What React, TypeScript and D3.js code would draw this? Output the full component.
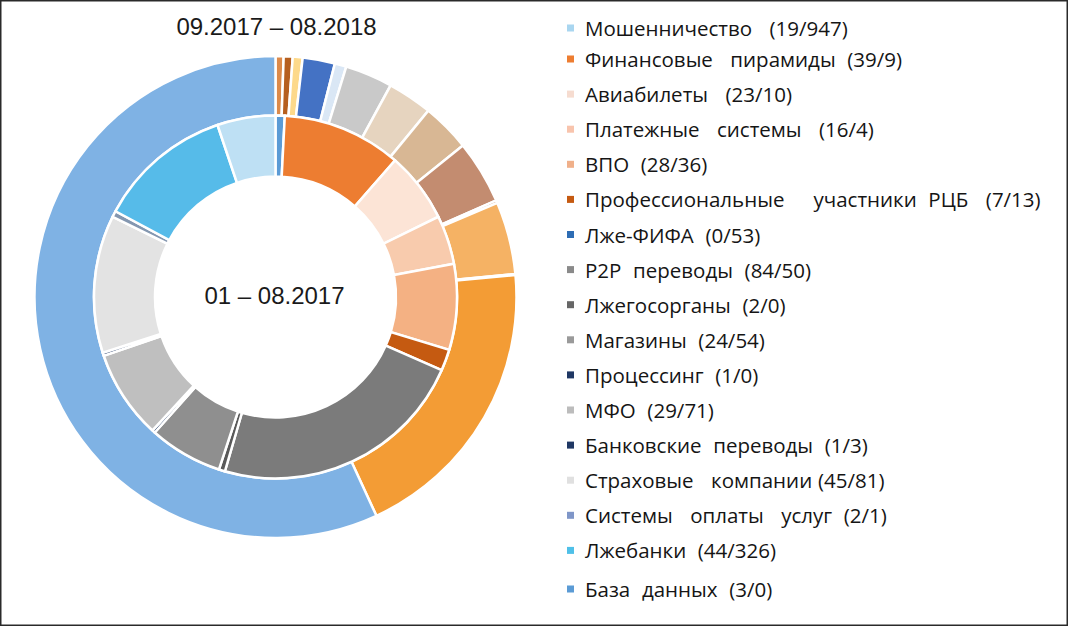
import React from "react";
import * as d3 from "d3";

// Categories in legend order (spacing as printed in the legend)
const categories = [
  "Мошенничество   ",
  "Финансовые   пирамиды  ",
  "Авиабилеты   ",
  "Платежные   системы   ",
  "ВПО  ",
  "Профессиональные     участники  РЦБ   ",
  "Лже-ФИФА  ",
  "P2P  переводы  ",
  "Лжегосорганы  ",
  "Магазины  ",
  "Процессинг  ",
  "МФО  ",
  "Банковские  переводы  ",
  "Страховые   компании ",
  "Системы   оплаты   услуг  ",
  "Лжебанки  ",
  "База  данных  ",
];

// Legend counts as printed (01–08.2017 / 09.2017–08.2018)
const legendCounts = [
  "(19/947)", "(39/9)", "(23/10)", "(16/4)", "(28/36)", "(7/13)", "(0/53)", "(84/50)",
  "(2/0)", "(24/54)", "(1/0)", "(29/71)", "(1/3)", "(45/81)", "(2/1)", "(44/326)", "(3/0)",
];

// Inner ring: 01–08.2017
const innerValues = [19, 39, 23, 16, 28, 7, 0, 84, 2, 24, 1, 29, 1, 45, 2, 44, 3];
// Outer ring: 09.2017–08.2018 (as read from the arcs)
const outerValues = [947, 9, 10, 11, 36, 13, 53, 50, 0, 54, 0, 71, 3, 81, 1, 326, 0];

// Order of the slices clockwise from 12 o'clock (indices into categories)
const ringOrder = [16, 1, 2, 3, 4, 5, 6, 7, 8, 9, 10, 11, 12, 13, 14, 15, 0];

const innerColors = [
  "#bee0f4", "#ed7d31", "#fce4d6", "#f8cbad", "#f4b183", "#c55a11", "#2e75b6", "#7b7b7b",
  "#595959", "#8f8f8f", "#1f3864", "#bfbfbf", "#1f3864", "#e3e3e3", "#8497b0", "#56bbe9", "#5b9bd5",
];
const outerColors = [
  "#7fb2e4", "#dc8a4a", "#b65f1f", "#fdd98b", "#4472c4", "#dae7f5", "#c9c9c9", "#e6d4bf",
  "#999999", "#d8b794", "#333333", "#c38c70", "#9e480e", "#f5b264", "#997300", "#f39c35", "#5b9bd5",
];
const legendColors = [
  "#a9d6f0", "#ed7d31", "#f6dcd0", "#f8c4ad", "#f0b08a", "#c55a11", "#2e6db4", "#8a8a8a",
  "#666666", "#9a9a9a", "#1f3864", "#bcbcbc", "#1f3864", "#e0e0e0", "#7f96c8", "#4fc0e8", "#5b9bd5",
];

const titleOuter = "09.2017 – 08.2018";
const titleInner = "01 – 08.2017";

const W = 1068;
const H = 626;
const cx = 275.5;
const cy = 297;

function Ring({ values, colors, r0, r1 }: { values: number[]; colors: string[]; r0: number; r1: number }) {
  const items = ringOrder.map((i) => ({ i, v: values[i] }));
  const pie = d3.pie<{ i: number; v: number }>().sort(null).value((d) => d.v).startAngle(0).endAngle(2 * Math.PI);
  const arc = d3.arc<d3.PieArcDatum<{ i: number; v: number }>>().innerRadius(r0).outerRadius(r1);
  return (
    <g>
      {pie(items)
        .filter((a) => a.data.v > 0)
        .map((a) => (
          <path key={a.data.i} d={arc(a) || ""} fill={colors[a.data.i]} stroke="#ffffff" strokeWidth={2.5} strokeLinejoin="miter" />
        ))}
    </g>
  );
}

export default function App() {
  const rowY = (k: number) => {
    if (k === 0) return 28;
    const y = 59 + (k - 1) * 35.1;
    return k === categories.length - 1 ? y + 3.5 : y;
  };
  return (
    <svg width={W} height={H} style={{ position: "absolute", left: 0, top: 0, background: "#fff" }}>
      <rect x={0} y={0} width={W} height={H} fill="#ffffff" />
      <g transform={`translate(${cx},${cy})`}>
        <Ring values={outerValues} colors={outerColors} r0={181.5} r1={241} />
        <Ring values={innerValues} colors={innerColors} r0={120.5} r1={181.5} />
      </g>
      <text x={276.5} y={35} textAnchor="middle" fontFamily="Liberation Sans, Arial, sans-serif" fontSize={24} fill="#1a1a1a">
        {titleOuter}
      </text>
      <text x={274.5} y={304} textAnchor="middle" fontFamily="Liberation Sans, Arial, sans-serif" fontSize={24} fill="#1a1a1a">
        {titleInner}
      </text>
      <g>
        {categories.map((c, k) => (
          <g key={k} transform={`translate(0,${rowY(k)})`}>
            <rect x={567} y={-3.5} width={7} height={7} fill={legendColors[k]} />
            <text
              x={585}
              y={0}
              dominantBaseline="central"
              fontFamily="Open Sans, Noto Sans, sans-serif"
              fontSize={20.5}
              fill="#151515"
              xmlSpace="preserve"
              style={{ whiteSpace: "pre", wordSpacing: "0.5px" }}
            >
              {`${c}${legendCounts[k]}`}
            </text>
          </g>
        ))}
      </g>
      <rect x={0.75} y={0.75} width={W - 1.5} height={H - 1.5} fill="none" stroke="#2a2a2a" strokeWidth={1.5} />
    </svg>
  );
}
